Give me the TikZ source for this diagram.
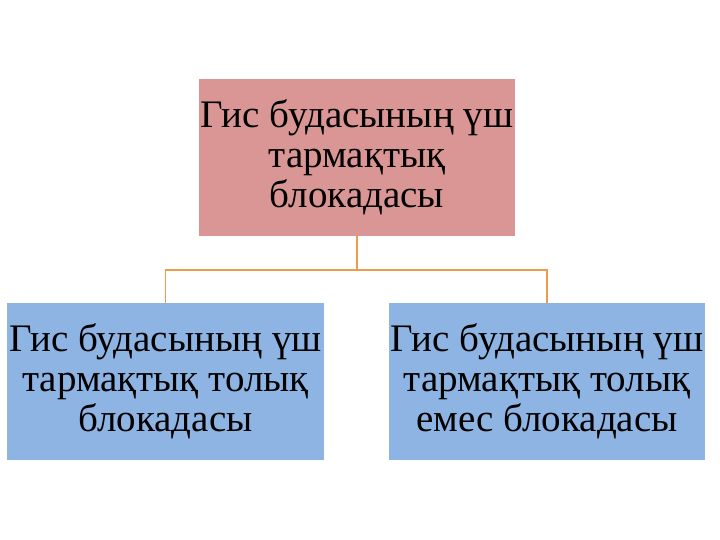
\documentclass[tikz,border=0pt]{standalone}
\usepackage{fontspec}
\setmainfont{Liberation Serif}
\definecolor{rootpink}{RGB}{217,150,148}
\definecolor{leafblue}{RGB}{141,180,226}
\definecolor{linkorange}{RGB}{238,155,75}
\tikzset{
  block/.style={minimum width=316bp, minimum height=157bp, inner sep=0pt, align=center,
    font=\fontsize{39bp}{40bp}\selectfont},
  link/.style={linkorange, line width=1.5bp}
}
\begin{document}
\begin{tikzpicture}[x=1bp, y=-1bp]
\useasboundingbox (0,0) rectangle (720,540);
\node[block, fill=rootpink] (root) at (357,157.5) {Гис будасының үш\\тармақтық\\блокадасы};
\node[block, fill=leafblue] (full) at (165.5,381.5) {Гис будасының үш\\тармақтық толық\\блокадасы};
\node[block, fill=leafblue] (part) at (547,381.5) {Гис будасының үш\\тармақтық толық\\емес блокадасы};
\draw[link] (root.south) -- ++(0,34) -| (full.north);
\draw[link] (root.south) -- ++(0,34) -| (part.north);
\end{tikzpicture}
\end{document}
